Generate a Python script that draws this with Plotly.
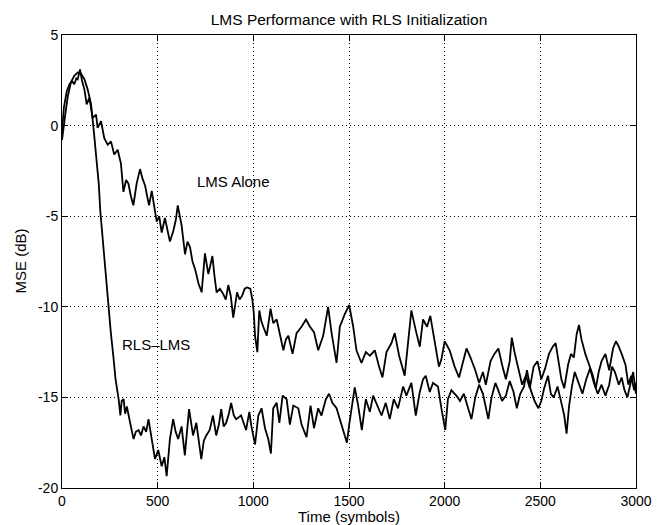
import plotly.graph_objects as go

# ---- data ----
lms_x = [0, 10, 25, 40, 52, 64, 75, 82, 94, 105, 117, 129, 143, 160, 178, 186, 204, 221, 239, 256,
         273, 291, 308, 321, 335, 347, 360, 373, 390, 408, 420, 434, 445, 455, 469, 482, 495, 508,
         521, 538, 550, 564, 582, 595, 605, 615, 625, 643, 656, 669, 682, 695, 713, 730, 747, 765,
         786, 797, 808, 825, 843, 856, 869, 882, 895, 915, 928, 941, 955, 967, 984, 995, 1002, 1009,
         1021, 1031, 1042, 1052, 1070, 1090, 1104, 1122, 1139, 1157, 1170, 1183, 1205, 1226, 1252,
         1275, 1296, 1317, 1339, 1365, 1391, 1409, 1435, 1452, 1478, 1501, 1522, 1539, 1565, 1588,
         1609, 1635, 1657, 1675, 1696, 1722, 1739, 1762, 1791, 1809, 1826, 1849, 1870, 1887, 1908,
         1925, 1948, 1970, 1983, 2000, 2026, 2052, 2075, 2100, 2114, 2135, 2160, 2180, 2200, 2215,
         2240, 2260, 2281, 2300, 2320, 2340, 2351, 2365, 2385, 2405, 2425, 2445, 2465, 2485, 2505,
         2525, 2545, 2565, 2580, 2595, 2610, 2625, 2645, 2660, 2675, 2690, 2702, 2715, 2735, 2755,
         2775, 2790, 2805, 2820, 2840, 2860, 2880, 2895, 2910, 2925, 2945, 2960, 2975, 2990, 3000]
lms_y = [-0.3, 1.0, 1.9, 2.3, 2.46, 2.28, 2.6, 2.55, 3.1, 2.46, 2.0, 1.17, 1.54, 0.43, 0.61, -0.13,
         0.24, -0.69, -1.06, -0.87, -1.6, -1.33, -2.1, -3.66, -3.0, -3.2, -3.9, -4.4, -3.2, -2.4,
         -2.9, -3.3, -3.9, -4.4, -3.6, -4.6, -5.3, -5.0, -5.9, -5.1, -5.8, -6.4, -5.8, -5.2, -4.4,
         -5.0, -5.5, -7.1, -6.4, -6.7, -7.5, -7.9, -8.7, -9.2, -7.05, -8.2, -7.2, -8.3, -9.2, -9.0,
         -9.3, -9.6, -8.8, -9.4, -10.6, -9.2, -9.6, -9.4, -9.0, -8.93, -9.0, -9.6, -10.3, -11.6,
         -12.5, -10.2, -10.8, -11.1, -11.6, -10.1, -10.9, -10.7, -11.45, -12.4, -11.8, -11.6, -12.6,
         -11.45, -11.1, -10.7, -11.1, -11.4, -12.4, -11.6, -10.0, -11.45, -13.1, -11.1, -10.4, -9.9,
         -11.1, -12.4, -13.1, -12.5, -12.7, -12.4, -13.3, -13.9, -12.5, -12.0, -11.45, -12.7, -13.8,
         -11.8, -10.2, -11.3, -12.2, -10.7, -11.1, -10.5, -12.0, -13.3, -12.9, -11.9, -12.4, -13.3,
         -13.9, -12.8, -12.3, -12.8, -13.5, -14.2, -13.6, -14.3, -13.0, -12.6, -12.3, -13.2, -14.0,
         -13.0, -11.7, -12.5, -13.5, -14.3, -13.8, -14.5, -13.3, -13.0, -14.0, -13.4, -12.6, -12.2,
         -12.0, -13.0, -14.0, -14.5, -13.2, -12.6, -12.8, -11.5, -11.0, -11.8, -12.6, -13.2, -13.8,
         -14.5, -13.6, -13.0, -12.6, -13.5, -12.3, -11.9, -12.2, -12.6, -13.2, -14.3, -13.8, -14.6,
         -14.2]

rls_x = [0, 8, 17, 30, 47, 64, 82, 99, 117, 134, 152, 168, 180, 192, 200, 212, 226, 242, 255, 268,
         280, 296, 305, 312, 322, 330, 339, 356, 365, 374, 386, 400, 413, 426, 440, 452, 469, 486,
         503, 521, 535, 547, 564, 581, 594, 607, 625, 642, 664, 675, 685, 702, 715, 728, 741, 754,
         772, 789, 806, 820, 832, 845, 858, 872, 884, 898, 910, 936, 962, 979, 990, 1009, 1026, 1043,
         1061, 1078, 1092, 1104, 1122, 1136, 1153, 1174, 1191, 1209, 1235, 1252, 1278, 1299, 1317,
         1339, 1356, 1379, 1396, 1413, 1435, 1452, 1470, 1489, 1501, 1513, 1530, 1548, 1567, 1588,
         1609, 1626, 1647, 1670, 1692, 1713, 1734, 1756, 1783, 1800, 1826, 1849, 1870, 1887, 1901,
         1922, 1939, 1965, 1983, 2003, 2017, 2035, 2061, 2080, 2100, 2120, 2140, 2160, 2180, 2200,
         2215, 2228, 2245, 2265, 2280, 2300, 2320, 2340, 2360, 2377, 2395, 2415, 2430, 2450, 2470,
         2490, 2505, 2520, 2540, 2555, 2570, 2590, 2610, 2625, 2637, 2650, 2665, 2680, 2700, 2720,
         2740, 2760, 2780, 2800, 2820, 2840, 2860, 2875, 2890, 2910, 2925, 2940, 2955, 2970, 2985,
         3000]
rls_y = [-0.8, 0.0, 0.6, 1.6, 2.4, 2.75, 2.93, 2.87, 2.56, 2.0, 1.17, -0.5, -1.8, -3.2, -4.7, -6.2,
         -7.9, -9.8, -11.4, -12.7, -14.0, -15.1, -16.0, -15.2, -15.1, -15.9, -15.5, -16.4, -16.9,
         -17.3, -16.9, -16.8, -17.1, -16.6, -16.9, -16.2, -17.3, -18.4, -17.9, -18.8, -18.3, -19.35,
         -17.3, -16.2, -16.9, -17.3, -16.6, -18.2, -15.65, -16.5, -17.1, -16.4, -17.3, -18.4, -17.4,
         -17.1, -16.8, -16.0, -17.1, -16.5, -15.65, -16.6, -16.4, -15.9, -15.3, -16.0, -16.2, -16.0,
         -16.8, -15.8, -16.6, -17.6, -16.0, -15.6, -16.7, -17.3, -18.1, -15.6, -15.3, -16.4, -14.9,
         -15.1, -16.5, -15.45, -15.6, -16.5, -17.2, -15.45, -16.7, -15.6, -16.0, -15.1, -14.8, -15.3,
         -15.6, -16.2, -16.9, -17.5, -16.5, -15.6, -14.45, -15.45, -16.8, -15.1, -15.8, -14.9,
         -15.45, -16.0, -15.3, -16.2, -15.1, -15.6, -14.4, -14.9, -14.2, -16.0, -14.7, -14.0, -13.8,
         -14.7, -14.2, -14.4, -15.6, -16.8, -15.1, -14.6, -14.9, -15.2, -14.8, -15.5, -16.2, -15.0,
         -14.3, -14.8, -15.6, -16.2, -15.0, -14.2, -14.6, -15.2, -14.9, -14.1, -14.7, -15.6, -14.8,
         -14.4, -13.5, -14.6, -15.2, -15.6, -15.2, -14.5, -13.8, -14.8, -15.0, -14.4, -15.3, -16.0,
         -17.0, -15.5, -14.4, -13.6, -14.2, -14.8, -14.0, -13.4, -14.2, -14.8, -14.3, -14.9, -14.3,
         -13.3, -13.6, -14.3, -13.9, -14.6, -15.0, -14.3, -13.6, -14.8]

x_ticks = [0, 500, 1000, 1500, 2000, 2500, 3000]
y_ticks = [-20, -15, -10, -5, 0, 5]

title_text = "LMS Performance with RLS Initialization"
x_label = "Time (symbols)"
y_label = "MSE (dB)"
lms_label = "LMS Alone"
rls_label = "RLS–LMS"
lms_label_pos = (697, -3.07)
rls_label_pos = (305, -12.08)

FONT = "Liberation Sans, Arial, Helvetica, sans-serif"
W, H = 655, 517          # page has an 8px body margin
L, R, T, B = 54, 27, 27, 37

fig = go.Figure()
fig.add_trace(go.Scatter(x=lms_x, y=lms_y, mode="lines", name=lms_label,
                         line=dict(color="black", width=1.8), showlegend=False))
fig.add_trace(go.Scatter(x=rls_x, y=rls_y, mode="lines", name=rls_label,
                         line=dict(color="black", width=1.8), showlegend=False))

fig.add_annotation(x=lms_label_pos[0], y=lms_label_pos[1], text=lms_label, showarrow=False,
                   xanchor="left", yanchor="middle", font=dict(family=FONT, size=15, color="black"))
fig.add_annotation(x=rls_label_pos[0], y=rls_label_pos[1], text=rls_label, showarrow=False,
                   xanchor="left", yanchor="middle", font=dict(family=FONT, size=15, color="black"))

# axis titles placed as paper annotations for exact positioning
fig.add_annotation(xref="paper", yref="paper", x=0.5, y=0, yshift=-28, text=x_label,
                   showarrow=False, xanchor="center", yanchor="middle",
                   font=dict(family=FONT, size=15, color="black"))
fig.add_annotation(xref="paper", yref="paper", x=0, y=0.5, xshift=-42, text=y_label,
                   textangle=-90, showarrow=False, xanchor="center", yanchor="middle",
                   font=dict(family=FONT, size=15, color="black"))

axis_common = dict(showline=True, linecolor="black", linewidth=1, mirror="ticks",
                   ticks="inside", ticklen=6, tickcolor="black", showgrid=True,
                   gridcolor="black", gridwidth=1, griddash="1px,3px", zeroline=False,
                   automargin=False,
                   tickfont=dict(family=FONT, size=14, color="black"))

fig.update_xaxes(range=[0, 3000], tickvals=x_ticks, ticktext=[str(v) for v in x_ticks],
                 **axis_common)
fig.update_yaxes(range=[-20, 5], tickvals=y_ticks, ticktext=[str(v) for v in y_ticks],
                 **axis_common)

fig.update_layout(
    width=W, height=H,
    margin=dict(l=L, r=R, t=T, b=B),
    paper_bgcolor="white", plot_bgcolor="white",
    title=dict(text=title_text, x=(L + (W - R)) / 2 / W, xanchor="center", y=1 - 11.5 / H,
               yanchor="middle", font=dict(family=FONT, size=15.5, color="black")),
    font=dict(family=FONT, color="black"),
)

fig.write_html("out.html")
